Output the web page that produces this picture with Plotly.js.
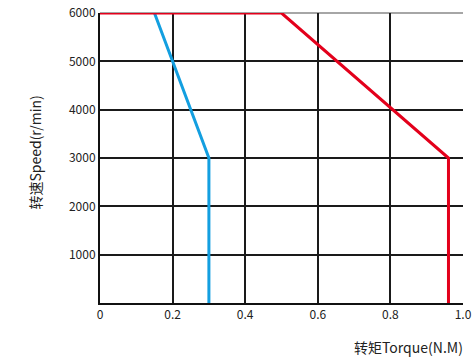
<!DOCTYPE html>
<html>
<head>
<meta charset="utf-8">
<script src="https://cdn.plot.ly/plotly-3.0.1.min.js"></script>
<style>html,body{margin:0;padding:0;background:#fff;}#chart{width:474px;height:359px;}</style>
</head>
<body>
<div id="chart"></div>
<script>
// Data
const blueTorque = [0.15, 0.2, 0.3, 0.3];
const blueSpeed  = [6000, 5000, 3000, 0];
const redTorque  = [0, 0.5, 0.96, 0.96];
const redSpeed   = [6000, 6000, 3000, 0];
const xTickVals  = [0, 0.2, 0.4, 0.6, 0.8, 1.0];
const xTickText  = ["0", "0.2", "0.4", "0.6", "0.8", "1.0"];
const yTickVals  = [1000, 2000, 3000, 4000, 5000, 6000];
const yTickText  = ["1000", "2000", "3000", "4000", "5000", "6000"];

const font = "'Noto Sans CJK SC', 'Noto Sans', sans-serif";

const traces = [
  {x: blueTorque, y: blueSpeed, mode: 'lines', line: {color: '#139fe0', width: 3}, cliponaxis: false, hoverinfo: 'none'},
  {x: redTorque, y: redSpeed, mode: 'lines', line: {color: '#e3001b', width: 3}, cliponaxis: false, hoverinfo: 'none'}
];

const layout = {
  width: 474, height: 359,
  margin: {l: 100, r: 10.5, t: 13, b: 56},
  paper_bgcolor: '#fff', plot_bgcolor: '#fff',
  showlegend: false,
  font: {family: font, size: 12, color: '#222'},
  xaxis: {
    range: [0, 1.0], tickvals: xTickVals, ticktext: xTickText,
    showgrid: true, gridcolor: '#1a1a1a', gridwidth: 2,
    showline: true, linecolor: '#111', linewidth: 2, mirror: false,
    zeroline: false, ticks: '', ticklen: 0, fixedrange: true,
    tickfont: {family: font, size: 12, color: '#222'}
  },
  yaxis: {
    range: [0, 6000], tickvals: yTickVals, ticktext: yTickText,
    showgrid: true, gridcolor: '#1a1a1a', gridwidth: 2,
    showline: true, linecolor: '#111', linewidth: 2,
    zeroline: false, ticks: '', ticklen: 0, fixedrange: true,
    tickfont: {family: font, size: 12, color: '#222'}
  },
  shapes: [
    {type: 'line', xref: 'paper', yref: 'paper', x0: 0, x1: 1, y0: 1, y1: 1, line: {color: '#888', width: 1.5}, layer: 'below'}
  ],
  annotations: [
    {text: '转矩Torque(N.M)', xref: 'paper', yref: 'paper', x: 1.005, y: -0.11, xanchor: 'right', yanchor: 'top', showarrow: false, font: {family: font, size: 14, color: '#222'}},
    {text: '转速Speed(r/min)', xref: 'paper', yref: 'paper', x: -0.178, y: 0.52, xanchor: 'center', yanchor: 'middle', textangle: -90, showarrow: false, font: {family: font, size: 14, color: '#222'}}
  ]
};

Plotly.newPlot('chart', traces, layout, {staticPlot: true, displayModeBar: false});
</script>
</body>
</html>
